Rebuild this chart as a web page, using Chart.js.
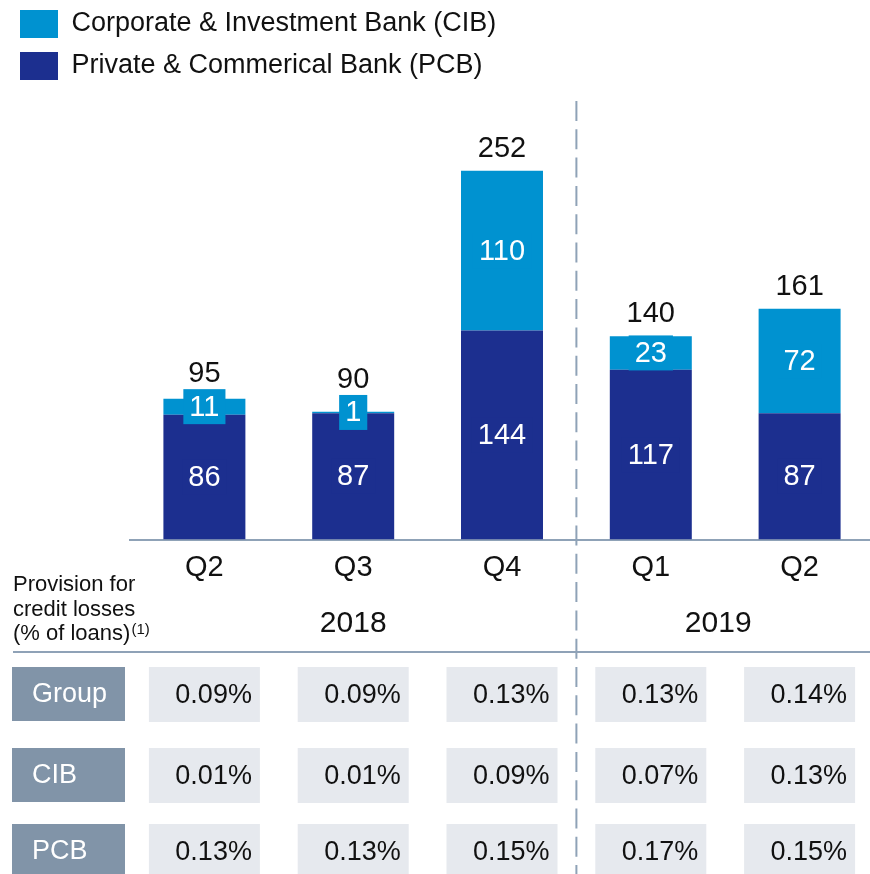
<!DOCTYPE html>
<html>
<head>
<meta charset="utf-8">
<script src="https://cdn.jsdelivr.net/npm/chart.js@4.4.1/dist/chart.umd.min.js"></script>
<style>
  html, body { margin: 0; padding: 0; background: #fff; overflow: hidden; }
</style>
</head>
<body>
<canvas id="provisionChart" width="874" height="874"></canvas>
<script>
const quarters = ['Q2', 'Q3', 'Q4', 'Q1', 'Q2'];
const years = ['2018', '2019'];
const pcbValues = [86, 87, 144, 117, 87];
const cibValues = [11, 1, 110, 23, 72];
const totals = [95, 90, 252, 140, 161];

// provision for credit losses, % of loans
const rowLabels = ['Group', 'CIB', 'PCB'];
const groupRatios = [0.09, 0.09, 0.13, 0.13, 0.14];
const cibRatios = [0.01, 0.01, 0.09, 0.07, 0.13];
const pcbRatios = [0.13, 0.13, 0.15, 0.17, 0.15];

const CIB_COLOR = '#0092d0';
const PCB_COLOR = '#1c2f8f';
const LINE_COLOR = '#8fa2b7';
const FONT = '"Liberation Sans", Arial, sans-serif';

// Labels, divider, year labels and table under the axis
const extrasPlugin = {
    id: 'extras',
    afterDatasetsDraw(chart) {
        const ctx = chart.ctx;
        const x = chart.scales.x;
        const area = chart.chartArea;
        const pcbMeta = chart.getDatasetMeta(0);
        const cibMeta = chart.getDatasetMeta(1);

        ctx.save();
        ctx.font = '29px ' + FONT;
        ctx.textAlign = 'center';
        ctx.textBaseline = 'middle';

        // segment labels, with a small box in the bar colour
        [pcbMeta, cibMeta].forEach((meta, di) => {
            const color = di === 0 ? PCB_COLOR : CIB_COLOR;
            meta.data.forEach((bar, i) => {
                const value = chart.data.datasets[di].data[i];
                const cy = (bar.y + bar.base) / 2;
                const w = ctx.measureText(String(value)).width + 12;
                ctx.fillStyle = color;
                ctx.fillRect(bar.x - w / 2, cy - 17.5, w, 35);
                ctx.fillStyle = '#fff';
                ctx.fillText(String(value), bar.x, cy + 1);
            });
        });

        // totals above the stacks
        cibMeta.data.forEach((bar, i) => {
            const segCenter = (bar.y + bar.base) / 2;
            const ty = Math.min(bar.y - 23, segCenter - 17.5 - 16);
            ctx.fillStyle = '#111';
            ctx.fillText(String(totals[i]), bar.x, ty + 1);
        });

        const divider = (x.getPixelForValue(2) + x.getPixelForValue(3)) / 2;

        // year labels
        ctx.font = '30px ' + FONT;
        ctx.fillStyle = '#111';
        ctx.fillText(years[0], (area.left + divider) / 2, 624);
        ctx.fillText(years[1], (divider + area.right - 14) / 2, 624);

        // row title
        ctx.font = '22px ' + FONT;
        ctx.textAlign = 'left';
        ctx.textBaseline = 'alphabetic';
        ctx.fillText('Provision for', 13, 591);
        ctx.fillText('credit losses', 13, 615.5);
        ctx.fillText('(% of loans)', 13, 640);
        const supX = 13 + ctx.measureText('(% of loans)').width + 1;
        ctx.font = '15px ' + FONT;
        ctx.fillText('(1)', supX, 634);

        // separator line
        ctx.strokeStyle = LINE_COLOR;
        ctx.lineWidth = 2;
        ctx.beginPath();
        ctx.moveTo(13, 652);
        ctx.lineTo(chart.width, 652);
        ctx.stroke();

        // table
        const rowTops = [667, 748, 824];
        const rows = [groupRatios, cibRatios, pcbRatios];
        ctx.font = '27px ' + FONT;
        ctx.textBaseline = 'middle';
        rows.forEach((ratios, r) => {
            const top = rowTops[r];
            ctx.fillStyle = '#8194a8';
            ctx.fillRect(12, top, 113, 54);
            ctx.fillStyle = '#fff';
            ctx.textAlign = 'left';
            ctx.fillText(rowLabels[r], 32, top + 28);
            ratios.forEach((v, i) => {
                const cx = x.getPixelForValue(i);
                ctx.fillStyle = '#e6e9ee';
                ctx.fillRect(cx - 55.5, top, 111, 55);
                ctx.fillStyle = '#111';
                ctx.textAlign = 'right';
                ctx.fillText(v.toFixed(2) + '%', cx + 47.5, top + 29);
            });
        });

        // dashed divider between 2018 and 2019
        ctx.strokeStyle = LINE_COLOR;
        ctx.lineWidth = 2;
        ctx.setLineDash([20, 8.3]);
        ctx.beginPath();
        ctx.moveTo(divider, 101);
        ctx.lineTo(divider, chart.height);
        ctx.stroke();
        ctx.restore();
    }
};

new Chart(document.getElementById('provisionChart'), {
    type: 'bar',
    data: {
        labels: quarters,
        datasets: [
            {
                label: 'Private & Commerical Bank (PCB)',
                data: pcbValues,
                backgroundColor: PCB_COLOR
            },
            {
                label: 'Corporate & Investment Bank (CIB)',
                data: cibValues,
                backgroundColor: CIB_COLOR
            }
        ]
    },
    options: {
        responsive: false,
        animation: false,
        barPercentage: 0.551,
        categoryPercentage: 1,
        layout: { padding: { left: 6, top: -4, right: 0, bottom: 0 } },
        plugins: {
            tooltip: { enabled: false },
            legend: {
                position: 'top',
                align: 'start',
                labels: {
                    boxWidth: 38,
                    boxHeight: 28,
                    padding: 14,
                    color: '#111',
                    font: { size: 27, family: FONT },
                    sort: (a, b) => b.datasetIndex - a.datasetIndex
                }
            }
        },
        scales: {
            x: {
                stacked: true,
                grid: { display: false, drawTicks: false },
                border: { color: LINE_COLOR, width: 2 },
                ticks: { color: '#111', padding: 11, font: { size: 29, family: FONT } },
                afterFit: s => { s.height = 334.5; }
            },
            y: {
                stacked: true,
                min: 0,
                max: 309.6,
                grid: { display: false },
                border: { display: false },
                ticks: { display: false },
                afterFit: s => { s.width = 124; }
            }
        }
    },
    plugins: [extrasPlugin]
});
</script>
</body>
</html>
